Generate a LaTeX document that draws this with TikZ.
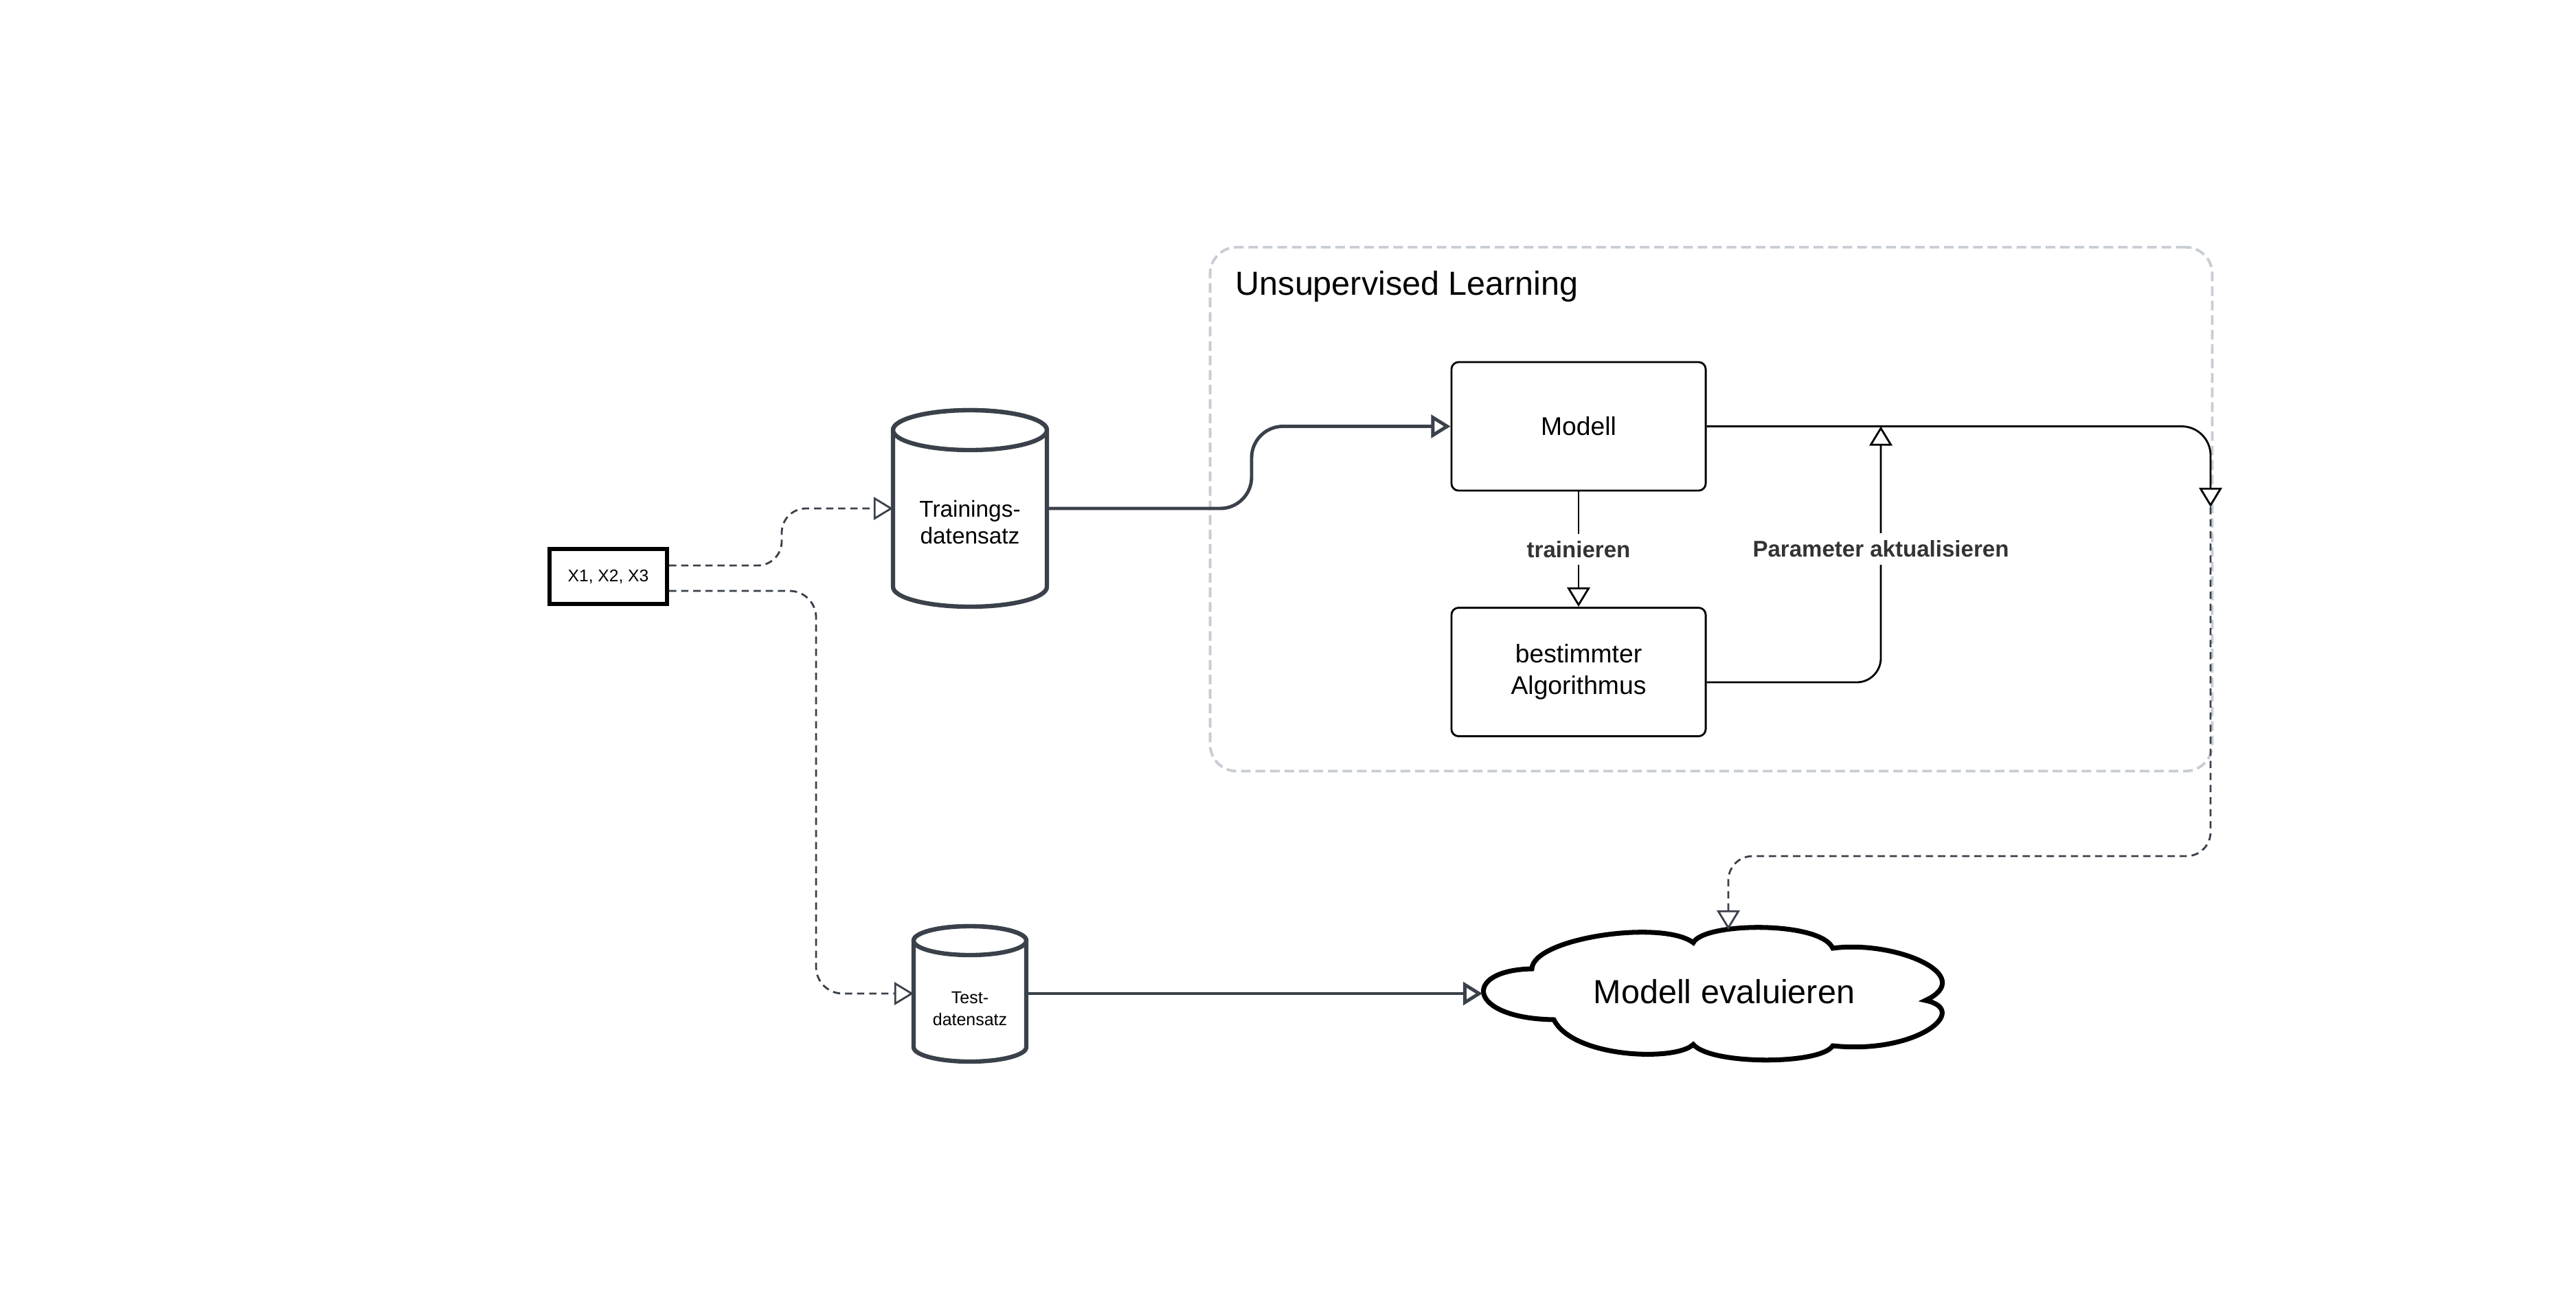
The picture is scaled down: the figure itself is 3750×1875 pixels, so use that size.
\documentclass[tikz,border=0pt]{standalone}
\usepackage{fontspec}
\setmainfont{Liberation Sans}
\usetikzlibrary{arrows.meta,calc}
\definecolor{slate}{RGB}{58,65,74}
\definecolor{boxgray}{RGB}{200,205,212}
\definecolor{labelgray}{RGB}{51,51,51}
\begin{document}
\begin{tikzpicture}[x=0.01cm, y=-0.01cm,
  tip/.style={-{Triangle[length=8pt,width=9.5pt,fill=white]}},
  thinline/.style={draw=black, line width=0.8pt},
  thickline/.style={draw=slate, line width=1.4pt},
  dashline/.style={draw=slate, line width=0.8pt, dash pattern=on 3pt off 2pt},
  procbox/.style={draw=black, line width=0.8pt, rounded corners=3pt, fill=white,
    minimum width=3.70cm, minimum height=1.87cm, align=center,
    font=\fontsize{10.6pt}{13pt}\selectfont},
  cylstroke/.style={draw=slate, line width=1.8pt, fill=white},
  anchorbox/.style={inner sep=0pt, outer sep=0pt},
  lab/.style={fill=white, inner sep=3pt, text=labelgray,
    font=\fontsize{9.4pt}{11pt}\selectfont\bfseries},
  container/.style={draw=boxgray, line width=1.1pt, dash pattern=on 4pt off 2pt,
    rounded corners=11pt}
]
\fill[white] (0,0) rectangle (3750,1875);
\useasboundingbox (0,0) rectangle (3750,1875);

% container
\node[container, anchorbox, minimum width=14.58cm, minimum height=7.62cm] (grp) at (2491,741) {};
\node[anchor=west, inner sep=0pt, font=\fontsize{13.8pt}{16pt}\selectfont] (title) at (1798,417) {Unsupervised Learning};

% input box
\node[draw=black, line width=1.7pt, fill=white, minimum width=1.71cm, minimum height=0.80cm,
  inner sep=0pt, font=\fontsize{7pt}{8.5pt}\selectfont] (xin) at (885.5,839) {X1, X2, X3};

% Trainings cylinder
\draw[cylstroke] (1300,626) -- (1300,854)
  arc[start angle=180, end angle=0, x radius=112, y radius=29] -- (1524,626)
  arc[start angle=360, end angle=180, x radius=112, y radius=29] -- cycle;
\draw[cylstroke] (1412,626) ellipse[x radius=112, y radius=29];
\node[anchorbox, minimum width=2.24cm, minimum height=2.86cm] (train) at (1412,740) {};
\node[align=center, font=\fontsize{9.5pt}{11.2pt}\selectfont] (traintext) at (1412,760) {Trainings-\\datensatz};

% Test cylinder
\draw[cylstroke] (1330,1369) -- (1330,1524)
  arc[start angle=180, end angle=0, x radius=82, y radius=21] -- (1494,1369)
  arc[start angle=360, end angle=180, x radius=82, y radius=21] -- cycle;
\draw[cylstroke] (1412,1369) ellipse[x radius=82, y radius=21];
\node[anchorbox, minimum width=1.64cm, minimum height=1.97cm] (test) at (1412,1446) {};
\node[align=center, font=\fontsize{7.1pt}{9pt}\selectfont] (testtext) at (1412,1468) {Test-\\datensatz};

% process boxes
\node[procbox] (modell) at (2298,620.5) {Modell};
\node[procbox] (algo) at (2298,978) {bestimmter\\Algorithmus};

% cloud
\draw[draw=black, line width=2pt, fill=white, line join=miter]
  (2230,1410)
  .. controls (2232,1365) and (2420,1338) .. (2465,1372)
  .. controls (2480,1342) and (2650,1340) .. (2668,1380)
  .. controls (2760,1368) and (2880,1420) .. (2803,1456)
  .. controls (2870,1470) and (2790,1535) .. (2668,1522)
  .. controls (2650,1550) and (2490,1550) .. (2465,1520)
  .. controls (2440,1545) and (2290,1540) .. (2262,1484)
  .. controls (2135,1482) and (2128,1412) .. cycle;
\node[font=\fontsize{13.8pt}{16pt}\selectfont] (cloud) at (2510,1443) {Modell evaluieren};
\coordinate (cloudL) at (2158,1446);
\coordinate (cloudT) at (2516,1353);

% coordinates
\coordinate (join) at (2738,620.5);
\coordinate (mid) at (3218,738);

% connectors
\draw[dashline, tip, rounded corners=10pt] ($(xin.east)+(0,-16)$) -- (1138,823) |- (train.west);
\draw[dashline, tip, rounded corners=11pt] ($(xin.east)+(0,21)$) -- (1188,860) |- (test.west);
\draw[thickline, tip, rounded corners=13pt] (train.east) -- (1822,740) |- (modell.west);
\draw[thickline, tip] (test.east) -- (cloudL);
\draw[thinline, tip] (modell.south) -- node[lab] (trlab) {trainieren} (algo.north);
\draw[thinline, tip, rounded corners=10pt] ($(algo.east)+(0,15)$) -| (join);
\node[lab] (palab) at (2738,799) {Parameter aktualisieren};
\draw[thinline, tip, rounded corners=12pt] (modell.east) -| (mid);
\draw[dashline, tip, rounded corners=10pt] (mid) -- (3218,1246) -| (cloudT);
\end{tikzpicture}
\end{document}
